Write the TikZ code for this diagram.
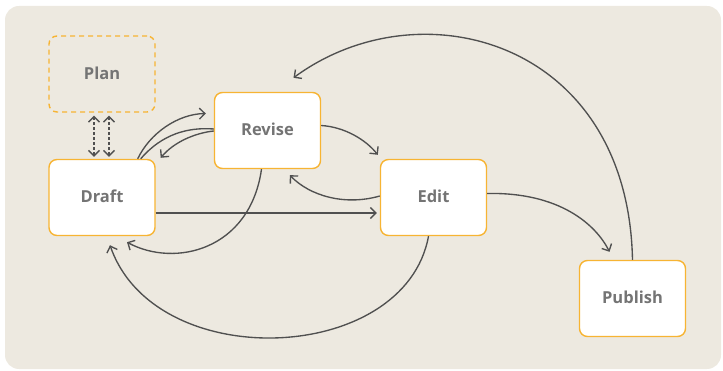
\documentclass[tikz,border=0pt]{standalone}
\usepackage{fontspec}
\setmainfont{Open Sans}
\usetikzlibrary{arrows.meta,calc}
\definecolor{bgc}{HTML}{EDE9E0}
\definecolor{boxline}{HTML}{F7B433}
\definecolor{txt}{HTML}{747474}
\definecolor{edge}{HTML}{505050}
\tikzset{
  stbox/.style={draw=boxline,line width=1.4pt,fill=white,rounded corners=8pt,
    minimum width=106pt,minimum height=76pt,inner sep=0pt,
    font=\fontsize{16.5}{19}\selectfont\bfseries,text=txt},
  planbox/.style={stbox,dashed,dash pattern=on 5pt off 4pt,fill=none},
  conn/.style={draw=edge,line width=1.35pt,-{Straight Barb[length=5.5pt,width=11pt]}},
  plain/.style={draw=edge,line width=1.35pt},
  dconn/.style={draw=edge,line width=1.35pt,dash pattern=on 3pt off 2pt,
    {Straight Barb[length=5.5pt,width=11pt]}-{Straight Barb[length=5.5pt,width=11pt]}}
}
\begin{document}
\begin{tikzpicture}[x=1pt,y=-1pt]
\useasboundingbox (0,0) rectangle (723,371);
\fill[bgc,rounded corners=14pt] (5,6) rectangle (721,369);

\node[planbox] (plan) at (102,74) {\raisebox{2pt}{Plan}};
\node[stbox] (draft) at (102,197.5) {\raisebox{2pt}{Draft}};
\node[stbox] (revise) at (267.5,130.5) {\raisebox{2pt}{Revise}};
\node[stbox] (edit) at (433.5,197.5) {\raisebox{2pt}{Edit}};
\node[stbox] (publish) at (632.5,298.5) {\raisebox{2pt}{Publish}};

% Plan <-> Draft
\draw[dconn,shorten <=3pt,shorten >=2pt] ([xshift=-8pt]plan.south) -- ([xshift=-8pt]draft.north);
\draw[dconn,shorten <=3pt,shorten >=2pt] ([xshift=7pt]plan.south) -- ([xshift=7pt]draft.north);

% Draft <-> Revise (upper)
\draw[conn] ([xshift=-18pt]draft.north east) .. controls (150,133) and (178,114) .. ([xshift=-8pt,yshift=17pt]revise.west);
\draw[plain] ([xshift=-15pt]draft.north east) .. controls (162,134) and (188,127) .. ([yshift=1.5pt]revise.west);
\draw[conn] ([yshift=-0.5pt]revise.west) .. controls (195,133) and (174,142) .. ([xshift=5pt,yshift=1pt]draft.north east);

% Revise <-> Edit
\draw[conn] ([yshift=5pt]revise.east) .. controls (345,127) and (366,140) .. ([xshift=-2pt,yshift=4pt]edit.north west);
\draw[conn] ([yshift=1.5pt]edit.west) .. controls (345,206) and (310,196) .. ([xshift=76pt,yshift=-6pt]revise.south west);

% Draft -> Edit
\draw[conn,shorten >=3pt] ([yshift=-15.5pt]draft.east) -- ([yshift=-15.5pt]edit.west);

% Revise -> Draft (lower)
\draw[conn] ([xshift=-6pt]revise.south) .. controls (250,250) and (175,268) .. ([xshift=25pt,yshift=-6pt]draft.south);

% Edit -> Draft
\draw[conn] ([xshift=-5pt]edit.south) .. controls (405,365) and (155,375) .. ([xshift=8pt,yshift=-9pt]draft.south);

% Edit -> Publish
\draw[conn] ([yshift=4pt]edit.east) .. controls (560,192) and (596,225) .. ([xshift=-23pt,yshift=8pt]publish.north);

% Publish -> Revise
\draw[conn] (publish.north) .. controls (628,40) and (420,-15) .. ([xshift=26pt,yshift=14pt]revise.north);
\end{tikzpicture}
\end{document}
